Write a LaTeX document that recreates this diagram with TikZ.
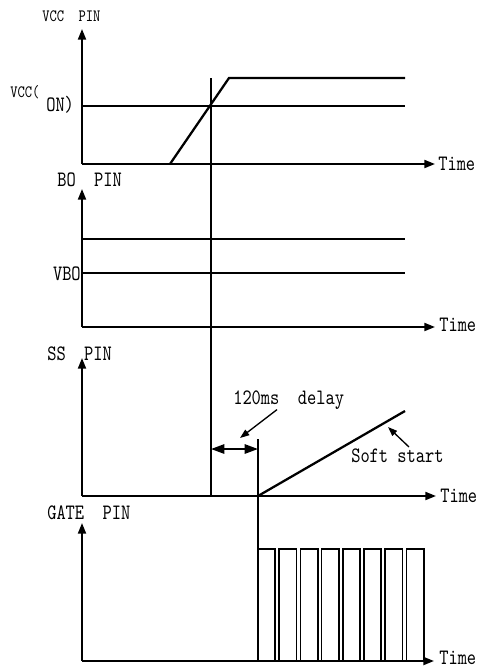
\documentclass[tikz,border=0pt]{standalone}
\usepackage{fontspec}
\newfontfamily\tallmono[FakeStretch=0.8]{lmmono10-regular.otf}
\usetikzlibrary{arrows.meta, positioning, calc}

\begin{document}
\begin{tikzpicture}[
        x=0.75pt, y=-0.75pt,
        axis/.style={-{Triangle[length=8pt,width=6pt]}, line width=1.5pt},
        sig/.style={line width=1.7pt},
        pulse/.style={line width=1.3pt},
        lbl/.style={font=\fontsize{16.5}{18}\selectfont\tallmono, inner sep=0pt},
        tiny/.style={font=\fontsize{13}{14}\selectfont\tallmono, inner sep=0pt},
        note/.style={-{Triangle[length=7pt,width=5pt]}, line width=1pt},
        span/.style={{Triangle[length=10pt,width=7pt]}-{Triangle[length=10pt,width=7pt]}, line width=1.4pt}
    ]
    \useasboundingbox (0,0) rectangle (478,668);

    % axes
    \coordinate (o1) at (82,164); \coordinate (t1) at (82,29);  \coordinate (r1) at (435,164);
    \coordinate (o2) at (82,327); \coordinate (t2) at (82,189); \coordinate (r2) at (435,327);
    \coordinate (o3) at (82,496); \coordinate (t3) at (82,358); \coordinate (r3) at (436,496);
    \coordinate (o4) at (82,661); \coordinate (t4) at (82,523); \coordinate (r4) at (434,661);
    \draw[axis] (o1) -- (t1); \draw[axis] (o1) -- (r1);
    \draw[axis] (o2) -- (t2); \draw[axis] (o2) -- (r2);
    \draw[axis] (o3) -- (t3); \draw[axis] (o3) -- (r3);
    \draw[axis] (o4) -- (t4); \draw[axis] (o4) -- (r4);

    \node[lbl, anchor=west] (time1) at (438,164) {Time};
    \node[lbl, anchor=west] (time2) at (439,325) {Time};
    \node[lbl, anchor=west] (time3) at (440,496) {Time};
    \node[lbl, anchor=west] (time4) at (439,658) {Time};

    % labels
    \node[tiny, anchor=west] (vccpin) at (42,16) {VCC~~PIN};
    \node[tiny, anchor=west] (vccon1) at (10,92) {VCC(};
    \node[lbl, anchor=west] (vccon2) at (46,105) {ON)};
    \node[lbl, anchor=west] (bopin) at (57,180) {BO~~PIN};
    \node[lbl, anchor=east] (vbo) at (81,274) {VBO};
    \node[lbl, anchor=west] (sspin) at (47,354) {SS~~PIN};
    \node[lbl, anchor=west] (gatepin) at (47,513) {GATE~~PIN};
    \node[lbl, anchor=west] (dly) at (233,400) {120ms~~delay};
    \node[lbl, anchor=west] (soft) at (351,456) {Soft~start};

    % VCC pin
    \draw[sig] (82,106) -- (405,106);
    \draw[sig] (170,164) -- (229,78) -- (405,78);
    \coordinate (von) at (211,78);
    \coordinate (vend) at (211,496);
    \draw[sig] (von) -- (vend);

    % BO pin
    \draw[sig] (82,239) -- (405,239);
    \draw[sig] (82,273) -- (405,273);

    % SS pin
    \coordinate (ssbeg) at (258,496);
    \coordinate (sstop) at (258,439);
    \draw[sig] (sstop) -- (258,661);
    \draw[sig] (ssbeg) -- (405,411);
    \draw[span] (211,449) -- (258,449);
    \coordinate (dlytip) at (240,438);
    \draw[note] (dly.south -| 277,0) -- (dlytip);
    \coordinate (softtip) at (388,427);
    \draw[note] (409,447) -- (softtip);

    % GATE pin
    \foreach \i in {0,...,7}
        \draw[pulse] ({258+21.2*\i},661) -- ++(0,-112) -- ++(17.3,0) -- ++(0,112);
\end{tikzpicture}
\end{document}
